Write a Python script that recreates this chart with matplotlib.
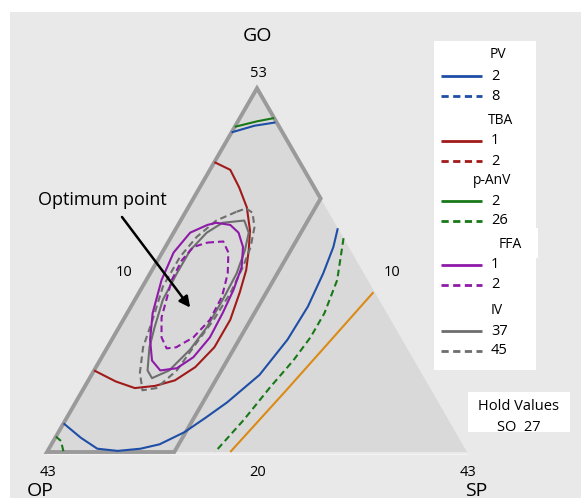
import numpy as np
import matplotlib
matplotlib.use("Agg")
import matplotlib.pyplot as plt
from matplotlib.patches import Polygon, Rectangle
from matplotlib.lines import Line2D

plt.rcParams["font.family"] = ["Open Sans", "DejaVu Sans"]

# ── MIXTURE SPACE (SO held at 27 -> GO + OP + SP = 73) ──────────
GO_LOW, OP_LOW, SP_LOW = 20, 10, 10
SPAN = 33
SP_LIMIT = 20          # feasible region: SP <= 20

# ── CONTOUR LINES, points as (GO, SP); OP = 73 - GO - SP ───────
pv2_go = [22.6, 21.3, 20.3, 20.1, 20.3, 20.7, 21.8, 23.1, 24.5, 27.0,
          30.2, 33.2, 36.2, 38.6, 40.3]
pv2_sp = [10.0, 12.0, 13.8, 15.5, 17.2, 18.5, 19.9, 20.9, 21.9, 23.2,
          23.8, 23.9, 23.6, 23.2, 22.7]
pv2_top_go = [49.0, 49.6, 49.9]
pv2_top_sp = [10.0, 11.5, 13.0]

panv2_go = [49.5, 50.0, 50.3]
panv2_sp = [10.0, 11.5, 12.7]

panv26_go = [39.4, 35.6, 32.6, 30.4, 28.3, 25.9, 22.9, 20.0]
panv26_sp = [23.6, 25.0, 25.5, 25.5, 25.2, 24.6, 24.0, 23.2]
panv26_corner_go = [21.4, 21.0, 20.0]
panv26_corner_sp = [10.0, 10.6, 11.3]

orange_go = [34.5, 30.4, 25.6, 20.0]
orange_sp = [28.4, 27.3, 26.0, 24.4]

tba1_go = [46.3, 45.6, 44.0, 42.2, 40.1, 38.3, 36.5, 34.5, 32.0, 29.5,
           27.7, 26.5, 26.0, 25.8, 26.4, 27.4]
tba1_sp = [10.0, 11.6, 13.1, 14.6, 15.9, 16.7, 17.4, 17.9, 18.4, 18.4,
           17.8, 16.8, 15.5, 14.0, 12.2, 10.0]

ffa1_go = [40.8, 40.6, 39.9, 38.6, 36.8, 34.7, 32.6, 30.4, 28.6, 27.6,
           27.4, 28.3, 30.2, 32.6, 35.6, 38.1, 39.9, 40.6]
ffa1_sp = [12.9, 14.1, 15.1, 16.1, 16.9, 17.3, 17.5, 17.6, 17.2, 16.4,
           15.2, 14.1, 13.0, 12.0, 11.2, 10.9, 11.3, 12.3]

ffa2_go = [39.0, 39.1, 38.1, 36.2, 34.1, 32.0, 30.4, 29.5, 29.4, 30.4,
           32.2, 34.1, 35.6, 37.4, 38.6]
ffa2_sp = [13.1, 14.3, 15.2, 16.1, 16.7, 16.8, 16.3, 15.4, 14.7, 13.8,
           12.9, 12.4, 12.0, 11.9, 12.2]

iv37_go = [40.9, 41.0, 39.9, 38.3, 36.2, 33.8, 31.3, 29.3, 27.4, 26.7,
           27.4, 29.5, 31.3, 33.8, 36.2, 38.3, 39.9, 40.8]
iv37_sp = [14.2, 15.0, 15.9, 16.4, 16.8, 16.9, 16.9, 16.6, 15.9, 14.9,
           14.2, 13.3, 12.8, 12.2, 12.1, 12.1, 12.6, 13.4]

iv45_go = [41.8, 42.1, 41.7, 40.4, 38.6, 36.8, 34.4, 32.0, 29.9, 27.4,
           25.8, 25.6, 27.2, 29.5, 32.0, 35.0, 37.7, 39.5, 41.0]
iv45_sp = [14.0, 14.6, 15.3, 16.1, 16.7, 17.0, 17.2, 17.1, 16.8, 16.5,
           15.7, 14.7, 13.7, 12.8, 12.3, 11.6, 11.6, 12.0, 12.8]

optimum_go, optimum_sp = 33.1, 14.7

legend_groups = [
    ("PV", ["2", "8"]),
    ("TBA", ["1", "2"]),
    ("p-AnV", ["2", "26"]),
    ("FFA", ["1", "2"]),
    ("IV", ["37", "45"]),
]

# ── COLORES ─────────────────────────────────────
BG        = "#e9e9e9"
TRI_FILL  = "#d9d9d9"
REGION_ED = "#9a9a9a"
BLUE      = "#1f4ea6"
RED       = "#a11a1a"
GREEN     = "#187818"
PURPLE    = "#8e1aa8"
GRAY      = "#6e6e6e"
ORANGE    = "#db8a16"
GROUP_COLORS = [BLUE, RED, GREEN, PURPLE, GRAY]

W, H = 581, 498
DASH = (3.2, 1.9)


def to_xy(go, sp):
    go = np.asarray(go, float)
    sp = np.asarray(sp, float)
    g = (go - GO_LOW) / SPAN
    s = (sp - SP_LOW) / SPAN
    return s + g / 2, g * np.sqrt(3) / 2


def closed(v):
    return list(v) + [v[0]]


def fx(px):
    return px / W


def fy(py):
    return 1 - py / H


def white_box(x0, y0, x1, y1):
    fig.patches.append(Rectangle((fx(x0), fy(y1)), fx(x1) - fx(x0), fy(y0) - fy(y1),
                                 transform=fig.transFigure, facecolor="white",
                                 edgecolor="none", zorder=2))


fig = plt.figure(figsize=(W / 100, H / 100), dpi=100)
fig.patches.append(Rectangle((fx(10), 0), 1, fy(12), transform=fig.transFigure,
                             facecolor=BG, edgecolor="none", zorder=-1))
ax = fig.add_axes([0, 0, 1, 1], zorder=1)
ax.set_xlim(-47 / 420, (W - 47) / 420)
ax.set_ylim((452 - H) / 420, 452 / 420)
ax.axis("off")
ax.patch.set_visible(False)

# triangle + feasible region
tri_x, tri_y = to_xy([GO_LOW, GO_LOW, GO_LOW + SPAN], [SP_LOW + SPAN, SP_LOW, SP_LOW])
ax.add_patch(Polygon(np.column_stack([tri_x, tri_y]), closed=True,
                     facecolor=TRI_FILL, edgecolor="none", zorder=1))
ax.plot([tri_x[0], tri_x[1]], [tri_y[0] - 0.004, tri_y[1] - 0.004],
        color="#f2f2f2", lw=1.0, zorder=1)

reg_go = [GO_LOW + SPAN, 73 - OP_LOW - SP_LIMIT, GO_LOW, GO_LOW]
reg_sp = [SP_LOW, SP_LIMIT, SP_LIMIT, SP_LOW]
rx, ry = to_xy(reg_go, reg_sp)
ax.add_patch(Polygon(np.column_stack([rx, ry]), closed=True, facecolor="none",
                     edgecolor=REGION_ED, lw=2.8, joinstyle="miter", zorder=2))


# contours
def draw(go, sp, color, dashed=False, lw=1.5):
    x, y = to_xy(go, sp)
    line, = ax.plot(x, y, color=color, lw=lw, zorder=3, solid_capstyle="butt")
    if dashed:
        line.set_dashes(DASH)


draw(orange_go, orange_sp, ORANGE)
draw(panv26_go, panv26_sp, GREEN, dashed=True)
draw(panv26_corner_go, panv26_corner_sp, GREEN, dashed=True)
draw(pv2_go, pv2_sp, BLUE)
draw(pv2_top_go, pv2_top_sp, BLUE)
draw(panv2_go, panv2_sp, GREEN)
draw(tba1_go, tba1_sp, RED)
draw(closed(iv45_go), closed(iv45_sp), GRAY, dashed=True)
draw(closed(iv37_go), closed(iv37_sp), GRAY)
draw(closed(ffa1_go), closed(ffa1_sp), PURPLE)
draw(closed(ffa2_go), closed(ffa2_sp), PURPLE, dashed=True)

# optimum annotation
ox, oy = to_xy(optimum_go, optimum_sp)
ax.annotate("", xy=(float(ox), float(oy)), xytext=((122 - 47) / 420, (452 - 217) / 420),
            arrowprops=dict(arrowstyle="-|>", color="black", lw=1.8,
                            mutation_scale=16, shrinkA=0, shrinkB=0), zorder=5)
fig.text(fx(102), fy(200), "Optimum point", fontsize=13, ha="center", va="center")

# corner / bound labels
fig.text(fx(257), fy(36), "GO", fontsize=14, ha="center", va="center")
fig.text(fx(40), fy(491), "OP", fontsize=14, ha="center", va="center")
fig.text(fx(476), fy(491), "SP", fontsize=14, ha="center", va="center")
fig.text(fx(258), fy(73), str(GO_LOW + SPAN), fontsize=10.5, ha="center", va="center")
fig.text(fx(48), fy(472), str(OP_LOW + SPAN), fontsize=10.5, ha="center", va="center")
fig.text(fx(468), fy(472), str(SP_LOW + SPAN), fontsize=10.5, ha="center", va="center")
fig.text(fx(258), fy(472), str(GO_LOW), fontsize=10.5, ha="center", va="center")
fig.text(fx(124), fy(272), str(SP_LOW), fontsize=10.5, ha="center", va="center")
fig.text(fx(392), fy(272), str(OP_LOW), fontsize=10.5, ha="center", va="center")

# legend (manual, Minitab style)
white_box(434, 41, 536, 370)
white_box(434, 228, 538, 258)
header_y = [55, 120, 180, 244, 310]
header_x = [498, 500, 492, 510, 497]
for (name, vals), col, hy, hx in zip(legend_groups, GROUP_COLORS, header_y, header_x):
    fig.text(fx(hx), fy(hy), name, fontsize=10, ha="center", va="center", zorder=3)
    for k, v in enumerate(vals):
        yy = hy + 21 + 20 * k
        ln = Line2D([fx(441), fx(482)], [fy(yy), fy(yy)], transform=fig.transFigure,
                    color=col, lw=2.0, solid_capstyle="butt", zorder=3)
        if k == 1:
            ln.set_dashes((2.6, 1.6))
        fig.add_artist(ln)
        fig.text(fx(491), fy(yy), v, fontsize=10.5, ha="left", va="center", zorder=3)

# hold values box
white_box(468, 392, 570, 432)
fig.text(fx(519), fy(407), "Hold Values", fontsize=10.5, ha="center", va="center", zorder=3)
fig.text(fx(519), fy(427), "SO  27", fontsize=10.5, ha="center", va="center", zorder=3)

fig.savefig("out.png", dpi=100, facecolor="white")
